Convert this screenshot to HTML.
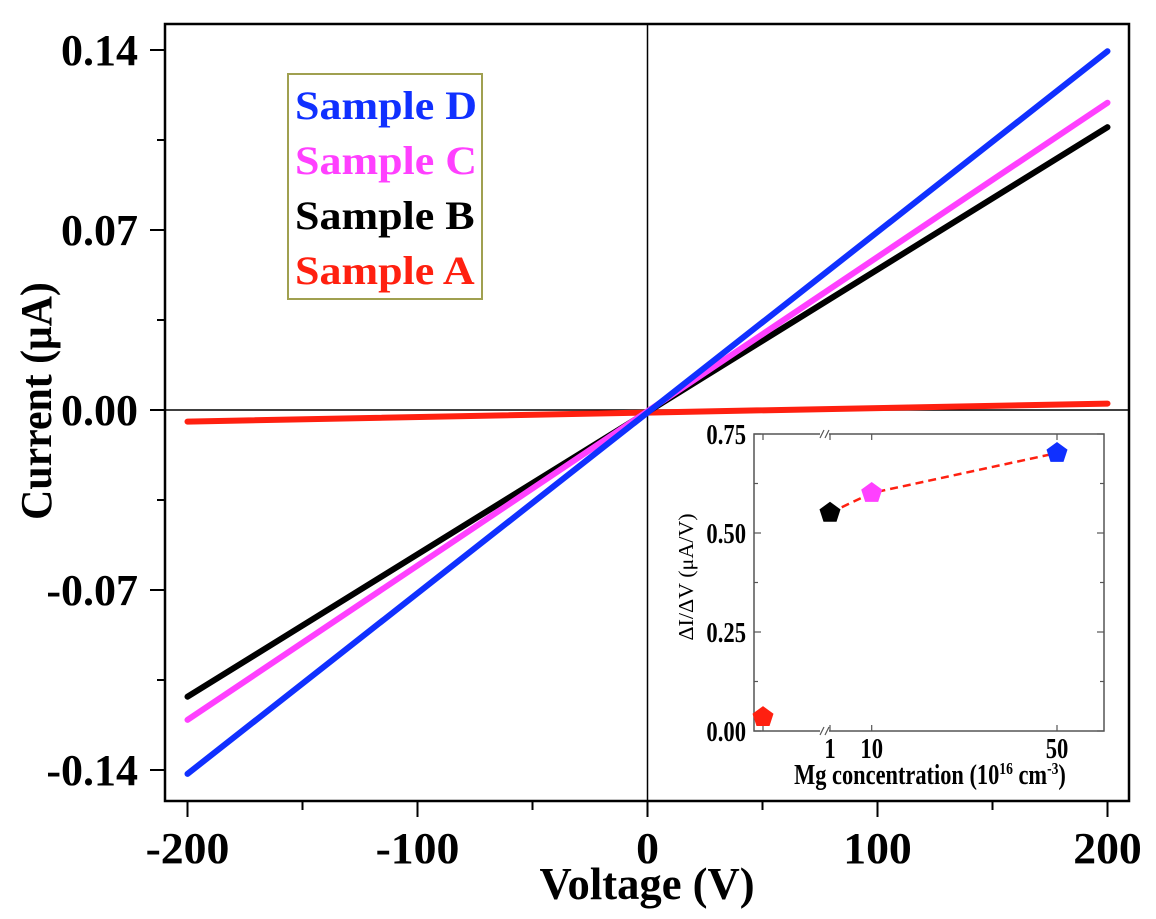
<!DOCTYPE html>
<html><head><meta charset="utf-8"><style>
html,body{margin:0;padding:0;background:#fff;}
svg{display:block;font-family:"Liberation Serif",serif;font-weight:bold;}
</style></head><body>
<svg id="chart" width="1156" height="919" viewBox="0 0 1156 919" xmlns="http://www.w3.org/2000/svg">
<g id="main"></g>
<g id="inset"></g>
</svg>
<script>
const seriesNames=["Sample A","Sample B","Sample C","Sample D"];
const seriesColors=["#ff2010","#000000","#ff40ff","#1030ff"];
const voltageRange=[-200,200];
const currentAtNeg=[-0.0045,-0.1115,-0.1205,-0.1415];
const currentAtPos=[0.0025,0.110,0.1195,0.1395];
const xTicks=[-200,-100,0,100,200];
const yTicks=[-0.14,-0.07,0,0.07,0.14];
const yTickLabels=["-0.14","-0.07","0.00","0.07","0.14"];
const insetConc=[0,1,10,50];
const insetSlope=[0.035,0.551,0.601,0.702];
const insetYTicks=[0,0.25,0.5,0.75];
const insetYLabels=["0.00","0.25","0.50","0.75"];
const insetXTicks=[1,10,50];

const NS="http://www.w3.org/2000/svg";
function mk(parent,tag,attrs,text){const e=document.createElementNS(NS,tag);for(const k in attrs)e.setAttribute(k,attrs[k]);if(text!==undefined)e.textContent=text;parent.appendChild(e);return e;}
function T(parent,x,y,anchor,size,sx,text,extra){const a={x:0,y:0,'text-anchor':anchor,'font-size':size,transform:'translate('+x+','+y+') scale('+sx+',1)'};if(extra)for(const k in extra)a[k]=extra[k];return mk(parent,'text',a,text);}
const X=v=>647.5+(v/200)*460;
const Y=v=>410-(v/0.07)*180;
const main=document.getElementById('main');
let f=mk(main,'rect',{x:165,y:24,width:964,height:777,fill:'none',stroke:'#000','stroke-width':2.5});

let zx=mk(main,'line',{x1:X(0),x2:X(0),y1:24,y2:801,stroke:'#000','stroke-width':1.5});

let zy=mk(main,'line',{x1:165,x2:1129,y1:Y(0),y2:Y(0),stroke:'#000','stroke-width':1.5});

for(let v=-200;v<=200;v+=50){const major=xTicks.includes(v);
 const t=mk(main,'line',{x1:X(v),x2:X(v),y1:801,y2:major?817:810,stroke:'#000','stroke-width':2});
 }
xTicks.forEach(v=>{const t=T(main,X(v),863,'middle',44,1.04,String(v));
 });
for(let i=-4;i<=4;i++){const v=i*0.035;const major=i%2===0;
 const t=mk(main,'line',{x1:major?150:157,x2:165,y1:Y(v),y2:Y(v),stroke:'#000','stroke-width':2});
 }
yTicks.forEach((v,i)=>{const t=T(main,138,Y(v)+15,'end',44,1.0,yTickLabels[i]);
 });
let xt=T(main,647,899,'middle',46,0.97,'Voltage (V)');

let yt=mk(main,'text',{x:0,y:0,'text-anchor':'middle','font-size':44,transform:'translate(51,401) rotate(-90) scale(0.95,1)'},'Current (μA)');

seriesNames.forEach((n,i)=>{const l=mk(main,'line',{x1:X(voltageRange[0]),y1:Y(currentAtNeg[i]),x2:X(voltageRange[1]),y2:Y(currentAtPos[i]),stroke:seriesColors[i],'stroke-width':6,'stroke-linecap':'round'});
 });
let lg=mk(main,'rect',{x:288,y:74,width:194,height:225,fill:'#fff',stroke:'#a0a050','stroke-width':2});

[3,2,1,0].forEach((i,k)=>{const t=T(main,295,119+k*55,'start',40,1.1,seriesNames[i],{fill:seriesColors[i]});
 });

const ins=document.getElementById('inset');
const IY=v=>731-(v/0.75)*297;
const IX=c=>c===0?763:830+(c-1)*(227/49);
let fr=mk(ins,'rect',{x:754,y:434,width:350,height:297,fill:'#fff',stroke:'#555','stroke-width':1.5});

for(let i=0;i<=6;i++){const v=i*0.125;const len=i%2===0?7:4;
 mk(ins,'line',{x1:754,x2:754+len,y1:IY(v),y2:IY(v),stroke:'#555','stroke-width':1.2});
 mk(ins,'line',{x1:1104-len,x2:1104,y1:IY(v),y2:IY(v),stroke:'#555','stroke-width':1.2});}
[IX(0)].concat(insetXTicks.map(IX)).forEach(x=>{mk(ins,'line',{x1:x,x2:x,y1:731,y2:725,stroke:'#555','stroke-width':1.2});mk(ins,'line',{x1:x,x2:x,y1:434,y2:440,stroke:'#555','stroke-width':1.2});});
[434,731].forEach(y=>{const b=mk(ins,'g',{});
 mk(b,'rect',{x:820,y:y-3,width:9,height:6,fill:'#fff'});
 mk(b,'line',{x1:820,y1:y+4,x2:824,y2:y-4,stroke:'#555','stroke-width':1.2});
 mk(b,'line',{x1:825,y1:y+4,x2:829,y2:y-4,stroke:'#555','stroke-width':1.2});});
insetYTicks.forEach((v,i)=>{const t=T(ins,746,IY(v)+10,'end',29,0.78,insetYLabels[i]);
 });
insetXTicks.forEach(c=>{const t=T(ins,IX(c),758,'middle',29,0.78,String(c));
 });
let ixt=T(ins,930,784,'middle',28,0.8,'');

ixt.innerHTML='Mg concentration (10<tspan dy="-10" font-size="17">16</tspan><tspan dy="10"> cm</tspan><tspan dy="-10" font-size="17">-3</tspan><tspan dy="10">)</tspan>';
let iyt=mk(ins,'text',{x:0,y:0,'text-anchor':'middle','font-size':21,'font-weight':'normal',transform:'translate(693,577) rotate(-90) scale(1.05,1)'},'ΔI/ΔV (μA/V)');

let pts=insetConc.slice(1).map((c,k)=>IX(c)+','+IY(insetSlope[k+1])).join(' ');
let dl=mk(ins,'polyline',{points:pts,fill:'none',stroke:'#ff2010','stroke-width':2.5,'stroke-dasharray':'8,5'});

function pent(cx,cy,r){let p=[];for(let k=0;k<5;k++){const a=-Math.PI/2+k*2*Math.PI/5;p.push((cx+r*Math.cos(a)).toFixed(1)+','+(cy+r*Math.sin(a)).toFixed(1));}return p.join(' ');}
insetConc.forEach((c,i)=>{const p=mk(ins,'polygon',{points:pent(IX(c),IY(insetSlope[i]),11),fill:seriesColors[i]});
 });
</script>
</body></html>
